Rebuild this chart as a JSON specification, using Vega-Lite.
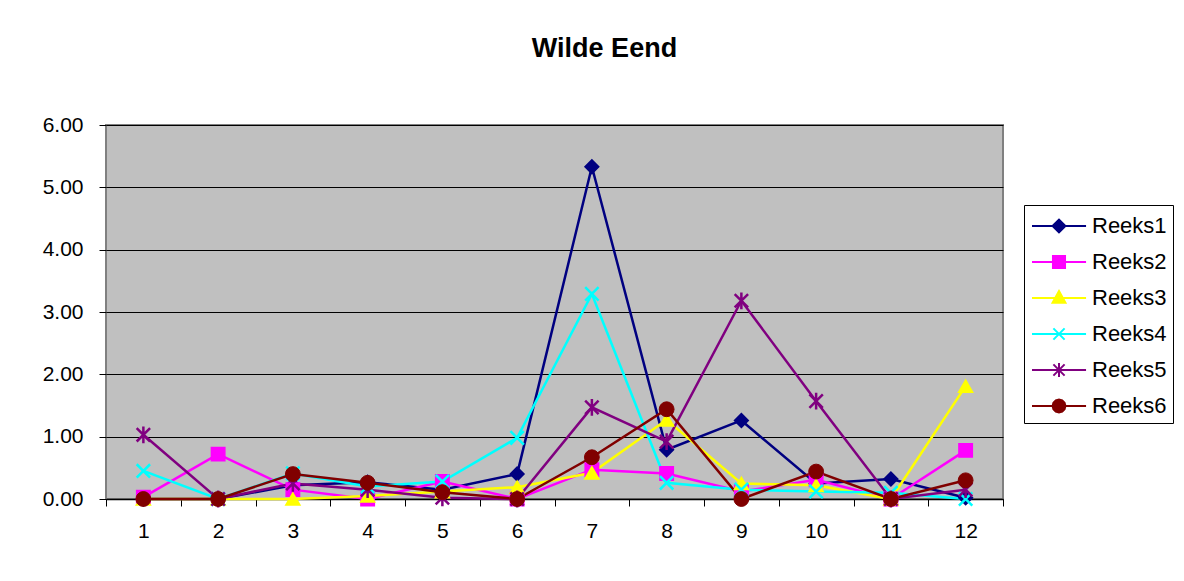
{
  "$schema": "https://vega.github.io/schema/vega-lite/v6.json",
  "autosize": {"type": "none"},
  "width": 897,
  "height": 374,
  "padding": {"left": 106, "top": 125, "right": 181, "bottom": 82},
  "background": "white",
  "config": {
    "font": "Liberation Sans",
    "view": {"fill": "#C0C0C0", "stroke": "#808080", "strokeWidth": 2}
  },
  "title": {
    "text": "Wilde Eend",
    "fontSize": 27,
    "fontWeight": "bold",
    "font": "Liberation Sans",
    "color": "black",
    "anchor": "middle",
    "dx": 50,
    "offset": 51
  },
  "data": {
    "values": [
      {"x": 1, "series": "Reeks1", "v": 0}, {"x": 2, "series": "Reeks1", "v": 0}, {"x": 3, "series": "Reeks1", "v": 0.22}, {"x": 4, "series": "Reeks1", "v": 0.27}, {"x": 5, "series": "Reeks1", "v": 0.15}, {"x": 6, "series": "Reeks1", "v": 0.40}, {"x": 7, "series": "Reeks1", "v": 5.33}, {"x": 8, "series": "Reeks1", "v": 0.79}, {"x": 9, "series": "Reeks1", "v": 1.26}, {"x": 10, "series": "Reeks1", "v": 0.25}, {"x": 11, "series": "Reeks1", "v": 0.32}, {"x": 12, "series": "Reeks1", "v": 0.02},
      {"x": 1, "series": "Reeks2", "v": 0.03}, {"x": 2, "series": "Reeks2", "v": 0.72}, {"x": 3, "series": "Reeks2", "v": 0.15}, {"x": 4, "series": "Reeks2", "v": 0}, {"x": 5, "series": "Reeks2", "v": 0.28}, {"x": 6, "series": "Reeks2", "v": 0}, {"x": 7, "series": "Reeks2", "v": 0.47}, {"x": 8, "series": "Reeks2", "v": 0.41}, {"x": 9, "series": "Reeks2", "v": 0.12}, {"x": 10, "series": "Reeks2", "v": 0.31}, {"x": 11, "series": "Reeks2", "v": 0}, {"x": 12, "series": "Reeks2", "v": 0.78},
      {"x": 1, "series": "Reeks3", "v": 0}, {"x": 2, "series": "Reeks3", "v": 0}, {"x": 3, "series": "Reeks3", "v": 0}, {"x": 4, "series": "Reeks3", "v": 0.05}, {"x": 5, "series": "Reeks3", "v": 0.12}, {"x": 6, "series": "Reeks3", "v": 0.19}, {"x": 7, "series": "Reeks3", "v": 0.42}, {"x": 8, "series": "Reeks3", "v": 1.27}, {"x": 9, "series": "Reeks3", "v": 0.25}, {"x": 10, "series": "Reeks3", "v": 0.22}, {"x": 11, "series": "Reeks3", "v": 0}, {"x": 12, "series": "Reeks3", "v": 1.81},
      {"x": 1, "series": "Reeks4", "v": 0.45}, {"x": 2, "series": "Reeks4", "v": 0}, {"x": 3, "series": "Reeks4", "v": 0.41}, {"x": 4, "series": "Reeks4", "v": 0.2}, {"x": 5, "series": "Reeks4", "v": 0.28}, {"x": 6, "series": "Reeks4", "v": 0.98}, {"x": 7, "series": "Reeks4", "v": 3.29}, {"x": 8, "series": "Reeks4", "v": 0.26}, {"x": 9, "series": "Reeks4", "v": 0.15}, {"x": 10, "series": "Reeks4", "v": 0.12}, {"x": 11, "series": "Reeks4", "v": 0.1}, {"x": 12, "series": "Reeks4", "v": 0},
      {"x": 1, "series": "Reeks5", "v": 1.03}, {"x": 2, "series": "Reeks5", "v": 0}, {"x": 3, "series": "Reeks5", "v": 0.25}, {"x": 4, "series": "Reeks5", "v": 0.15}, {"x": 5, "series": "Reeks5", "v": 0.02}, {"x": 6, "series": "Reeks5", "v": 0}, {"x": 7, "series": "Reeks5", "v": 1.47}, {"x": 8, "series": "Reeks5", "v": 0.92}, {"x": 9, "series": "Reeks5", "v": 3.18}, {"x": 10, "series": "Reeks5", "v": 1.57}, {"x": 11, "series": "Reeks5", "v": 0}, {"x": 12, "series": "Reeks5", "v": 0.15},
      {"x": 1, "series": "Reeks6", "v": 0}, {"x": 2, "series": "Reeks6", "v": 0}, {"x": 3, "series": "Reeks6", "v": 0.40}, {"x": 4, "series": "Reeks6", "v": 0.26}, {"x": 5, "series": "Reeks6", "v": 0.11}, {"x": 6, "series": "Reeks6", "v": 0}, {"x": 7, "series": "Reeks6", "v": 0.67}, {"x": 8, "series": "Reeks6", "v": 1.44}, {"x": 9, "series": "Reeks6", "v": 0}, {"x": 10, "series": "Reeks6", "v": 0.44}, {"x": 11, "series": "Reeks6", "v": 0}, {"x": 12, "series": "Reeks6", "v": 0.30}
    ]
  },
  "encoding": {
    "x": {
      "field": "x", "type": "ordinal",
      "scale": {"type": "band", "paddingInner": 0, "paddingOuter": 0},
      "axis": {
        "title": null, "labelAngle": 0, "tickBand": "extent",
        "labelFont": "Liberation Sans", "labelFontSize": 21, "labelColor": "black",
        "labelPadding": 14, "tickSize": 7, "tickColor": "black",
        "domainColor": "black", "domainWidth": 1.5, "grid": false
      }
    },
    "y": {
      "field": "v", "type": "quantitative",
      "scale": {"domain": [0, 6], "nice": false, "zero": true},
      "axis": {
        "title": null, "values": [0, 1, 2, 3, 4, 5, 6], "format": ".2f",
        "labelFont": "Liberation Sans", "labelFontSize": 21, "labelColor": "black",
        "labelPadding": 16, "tickSize": 7, "tickColor": "black",
        "domain": false, "grid": true, "gridColor": "black", "gridOpacity": 1, "gridWidth": 1
      }
    }
  },
  "layer": [
    {
      "mark": {"type": "line", "strokeWidth": 2.5},
      "encoding": {
        "color": {
          "field": "series", "type": "nominal",
          "scale": {"domain": ["Reeks1", "Reeks2", "Reeks3", "Reeks4", "Reeks5", "Reeks6"], "range": ["#000080", "#FF00FF", "#FFFF00", "#00FFFF", "#800080", "#800000"]},
          "legend": {
            "title": null, "orient": "none", "legendX": 918, "legendY": 80,
            "strokeColor": "black", "fillColor": "white", "padding": 6,
            "labelFont": "Liberation Sans", "labelFontSize": 22, "labelColor": "black",
            "labelOffset": 32, "rowPadding": 10, "symbolSize": 784, "symbolStrokeWidth": 2,
            "encode": {
              "symbols": {
                "update": {
                  "shape": {"signal": "datum.value == 'Reeks1' ? 'M-0.927,0H2.933M0.54,0L1,-0.46L1.46,0L1,0.46Z' : datum.value == 'Reeks2' ? 'M-0.927,0H2.933M0.57,-0.43H1.43V0.43H0.57Z' : datum.value == 'Reeks3' ? 'M-0.927,0H2.933M1,-0.5L1.46,0.34L0.54,0.34Z' : datum.value == 'Reeks4' ? 'M-0.927,0H2.933M0.6,-0.4L1.4,0.4M0.6,0.4L1.4,-0.4' : datum.value == 'Reeks5' ? 'M-0.927,0H2.933M0.6,-0.4L1.4,0.4M0.6,0.4L1.4,-0.4M1,-0.5L1,0.5' : 'M-0.927,0H2.933M1.46,0L1.398,0.23L1.23,0.398L1,0.46L0.77,0.398L0.602,0.23L0.54,0L0.602,-0.23L0.77,-0.398L1,-0.46L1.23,-0.398L1.398,-0.23Z'"},
                  "fill": {"signal": "scale('color', datum.value)"},
                  "stroke": {"signal": "scale('color', datum.value)"},
                  "strokeWidth": {"value": 2},
                  "opacity": {"value": 1},
                  "fillOpacity": {"value": 1}
                }
              }
            }
          }
        }
      }
    },
    {
      "transform": [{"filter": "datum.series == 'Reeks1'"}],
      "mark": {"type": "point", "shape": "diamond", "filled": true, "size": 190, "fill": "#000080", "stroke": "#000080", "strokeWidth": 1.5, "opacity": 1},
      "encoding": {}
    },
    {
      "transform": [{"filter": "datum.series == 'Reeks2'"}],
      "mark": {"type": "point", "shape": "square", "filled": true, "size": 180, "fill": "#FF00FF", "stroke": "#FF00FF", "strokeWidth": 1.5, "opacity": 1},
      "encoding": {}
    },
    {
      "transform": [{"filter": "datum.series == 'Reeks3'"}],
      "mark": {"type": "point", "shape": "triangle-up", "filled": true, "size": 200, "fill": "#FFFF00", "stroke": "#FFFF00", "strokeWidth": 1.5, "opacity": 1},
      "encoding": {}
    },
    {
      "transform": [{"filter": "datum.series == 'Reeks4'"}],
      "mark": {"type": "point", "shape": "M-1,-1L1,1M-1,1L1,-1", "filled": false, "size": 180, "stroke": "#00FFFF", "strokeWidth": 2.5, "opacity": 1},
      "encoding": {}
    },
    {
      "transform": [{"filter": "datum.series == 'Reeks5'"}],
      "mark": {"type": "point", "shape": "M-1,-1L1,1M-1,1L1,-1M0,-1.25L0,1.25", "filled": false, "size": 180, "stroke": "#800080", "strokeWidth": 2.5, "opacity": 1},
      "encoding": {}
    },
    {
      "transform": [{"filter": "datum.series == 'Reeks6'"}],
      "mark": {"type": "point", "shape": "circle", "filled": true, "size": 220, "fill": "#800000", "stroke": "#800000", "strokeWidth": 1, "opacity": 1},
      "encoding": {}
    }
  ]
}
